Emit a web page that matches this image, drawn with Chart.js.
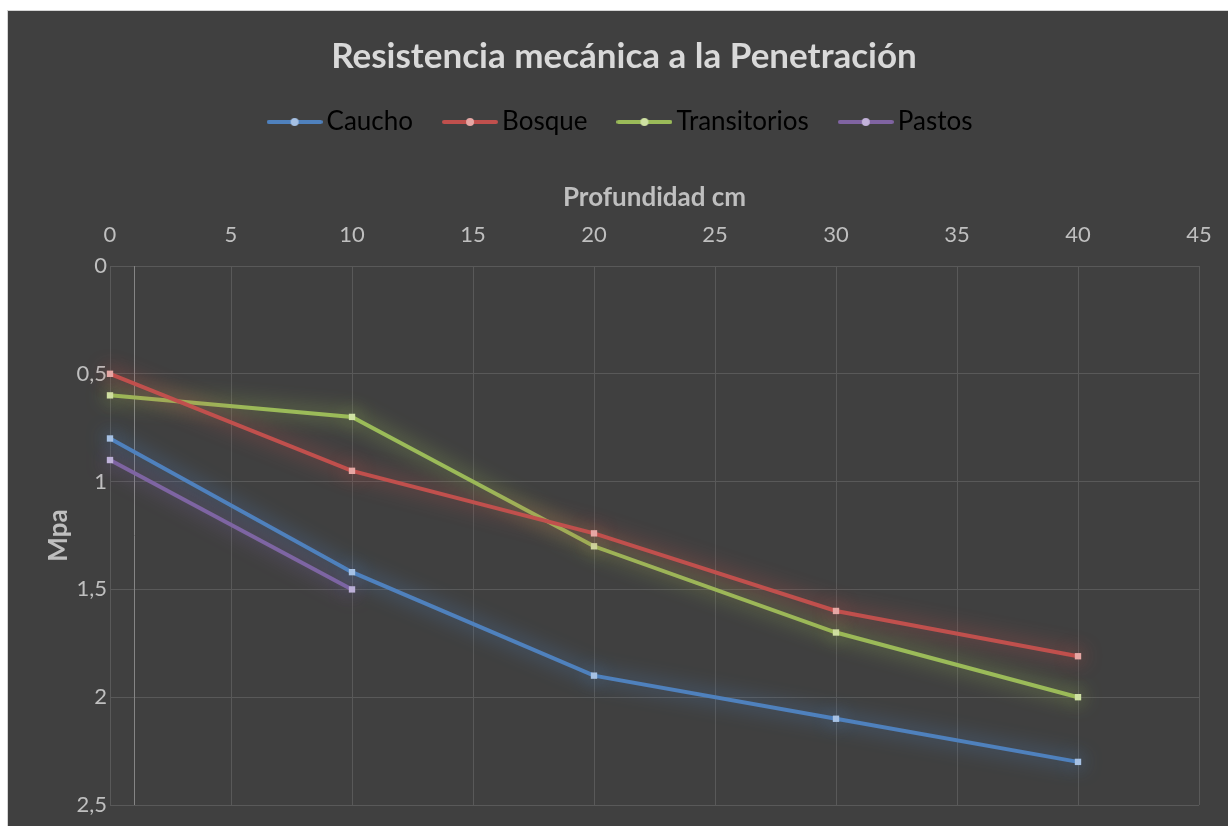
<!DOCTYPE html>
<html>
<head>
<meta charset="utf-8">
<script src="https://cdn.jsdelivr.net/npm/chart.js@4"></script>
<style>
  html, body { margin: 0; padding: 0; background: #fff; overflow: hidden; }
  #wrap {
    position: absolute; left: 7px; top: 10px;
    width: 1232px; height: 840px;
    border-top: 1px solid #d4d4d4; border-left: 1px solid #d4d4d4;
    background: #404040;
  }
</style>
</head>
<body>
<div id="wrap"><canvas id="myChart"></canvas></div>
<script>
const depths = [0, 10, 20, 30, 40];
const seriesNames = ['Caucho', 'Bosque', 'Transitorios', 'Pastos'];
const caucho = [0.80, 1.42, 1.90, 2.10, 2.30];
const bosque = [0.50, 0.95, 1.24, 1.60, 1.81];
const transitorios = [0.60, 0.70, 1.30, 1.70, 2.00];
const pastos = [0.90, 1.50];
const xTicks = [0, 5, 10, 15, 20, 25, 30, 35, 40, 45];
const yTicks = [0, 0.5, 1, 1.5, 2, 2.5];

const lineColors = ['#4F81BD', '#C0504D', '#9BBB59', '#8064A2'];
const markColors = ['#a6c1e4', '#e6a7a4', '#cfe2a3', '#c3b3da'];
const glowColors = ['rgba(79,129,189,1)', 'rgba(192,80,77,1)', 'rgba(155,187,89,1)', 'rgba(128,100,162,1)'];
const allValues = [caucho, bosque, transitorios, pastos];

function toPoints(vals) {
  return vals.map((v, i) => ({ x: depths[i], y: v }));
}

// little line + dot sample for the legend
function legendMark(i) {
  const c = document.createElement('canvas');
  c.width = 56; c.height = 10;
  const g = c.getContext('2d');
  g.strokeStyle = lineColors[i];
  g.lineWidth = 4;
  g.lineCap = 'round';
  g.beginPath(); g.moveTo(2, 5); g.lineTo(54, 5); g.stroke();
  g.fillStyle = markColors[i];
  g.beginPath(); g.arc(28, 5, 4, 0, Math.PI * 2); g.fill();
  return c;
}

const glow = {
  id: 'glow',
  beforeDatasetDraw(chart, args) {
    const ctx = chart.ctx;
    ctx.save();
    ctx.shadowColor = glowColors[args.index];
    ctx.shadowBlur = 20;
  },
  afterDatasetDraw(chart) {
    chart.ctx.restore();
  }
};

// Excel puts the vertical axis line where x = 1
const axisLine = {
  id: 'axisLine',
  beforeDatasetsDraw(chart) {
    const { ctx, chartArea, scales } = chart;
    const px = Math.round(scales.x.getPixelForValue(1)) + 0.5;
    ctx.save();
    ctx.strokeStyle = '#858585';
    ctx.lineWidth = 1;
    ctx.beginPath();
    ctx.moveTo(px, chartArea.top);
    ctx.lineTo(px, chartArea.bottom);
    ctx.stroke();
    ctx.restore();
  }
};

const commaLabel = v => String(v).replace('.', ',');

const ctx = document.getElementById('myChart');

new Chart(ctx, {
  type: 'line',
  data: {
    datasets: seriesNames.map((name, i) => ({
      label: name,
      data: toPoints(allValues[i]),
      borderColor: lineColors[i],
      backgroundColor: markColors[i],
      borderWidth: 4,
      pointStyle: 'rect',
      pointRadius: 4.5,
      pointBorderWidth: 0,
      pointBackgroundColor: markColors[i],
      tension: 0,
      clip: false,
    })),
  },
  options: {
    responsive: true,
    maintainAspectRatio: false,
    animation: false,
    layout: { padding: { left: 0, right: 0, top: 0, bottom: 46 } },
    plugins: {
      title: {
        display: true,
        text: 'Resistencia mecánica a la Penetración',
        color: '#d9d9d9',
        font: { family: 'Lato', size: 35, weight: 'bold' },
        padding: { top: 25, bottom: -7 },
      },
      legend: {
        position: 'top',
        labels: {
          color: '#bfbfbf',
          font: { family: 'Lato', size: 26 },
          usePointStyle: true,
          pointStyleWidth: 38,
          padding: 38,
          generateLabels: chart => seriesNames.map((name, i) => ({
            text: name,
            fillStyle: lineColors[i],
            strokeStyle: lineColors[i],
            lineWidth: 0,
            pointStyle: legendMark(i),
            datasetIndex: i,
            hidden: false,
          })),
        },
      },
      tooltip: { enabled: false },
    },
    scales: {
      x: {
        type: 'linear',
        position: 'top',
        min: 0,
        max: 45,
        afterBuildTicks: s => { s.ticks = xTicks.map(v => ({ value: v })); },
        afterFit: s => { s.height = 121; },
        grid: { color: '#595959', drawTicks: false },
        border: { color: '#595959' },
        ticks: { color: '#bfbfbf', font: { family: 'Lato', size: 22 }, padding: 18, maxRotation: 0 },
        title: {
          display: true,
          text: 'Profundidad cm',
          color: '#bfbfbf',
          font: { family: 'Lato', size: 26, weight: 'bold' },
          padding: { top: 37, bottom: 0 },
        },
      },
      y: {
        type: 'linear',
        reverse: true,
        min: 0,
        max: 2.5,
        afterBuildTicks: s => { s.ticks = yTicks.map(v => ({ value: v })); },
        afterFit: s => { s.width = 102; },
        grid: { color: '#595959', drawTicks: false },
        border: { color: '#595959' },
        ticks: { color: '#bfbfbf', font: { family: 'Lato', size: 22 }, padding: 3, callback: commaLabel },
        title: {
          display: true,
          text: 'Mpa',
          color: '#bfbfbf',
          font: { family: 'Lato', size: 26, weight: 'bold' },
          padding: { top: 35, bottom: 0 },
        },
      },
      // empty spacer on the right, the chart runs past the crop
      spacer: {
        type: 'linear',
        position: 'right',
        display: true,
        afterFit: s => { s.width = 41; },
        grid: { display: false },
        border: { display: false },
        ticks: { display: false },
      },
    },
  },
  plugins: [glow, axisLine],
});
</script>
</body>
</html>
